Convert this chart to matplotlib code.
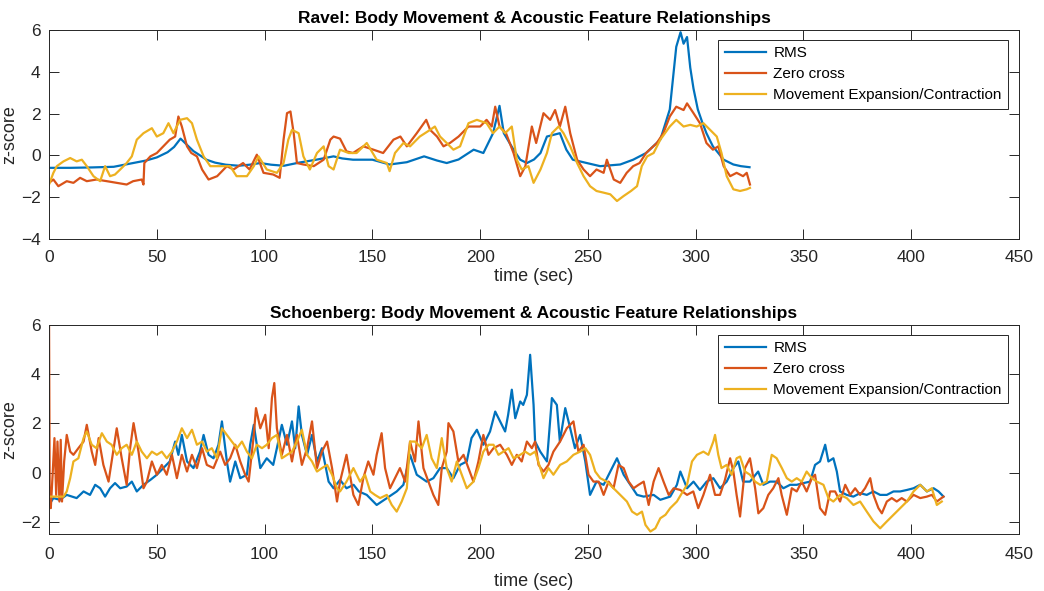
import matplotlib.pyplot as plt
import numpy as np

# ---------------------------------------------------------------------
# data (time in sec, z-score)
# ---------------------------------------------------------------------

ravel_rms_t = [0, 10, 20, 30, 39, 45, 50, 55, 58, 61, 64, 67, 70, 73, 77, 82, 88, 93, 98, 103,
               109, 116, 124, 132, 136, 141, 150, 158, 166, 174, 180, 184.5, 190, 197, 201.5,
               206, 209, 211, 215.5, 218.6, 221.7, 225, 228, 231, 237, 240, 243, 249.5, 255.7,
               265, 271, 277, 283.6, 288, 291, 293, 294.4, 296, 297.5, 299, 301, 303, 305, 308,
               313, 317.5, 321, 325]
ravel_rms = [-0.60, -0.60, -0.58, -0.55, -0.37, -0.25, -0.10, 0.15, 0.40, 0.80, 0.50, 0.20, 0.0,
             -0.21, -0.35, -0.45, -0.50, -0.45, -0.37, -0.45, -0.50, -0.35, -0.21, -0.05, -0.15,
             -0.21, -0.21, -0.44, -0.33, -0.05, -0.25, -0.37, -0.20, 0.27, 0.11, 1.06, 2.37, 1.06,
             0.27, -0.21, -0.37, -0.20, 0.11, 0.90, 1.06, 0.27, -0.21, -0.37, -0.52, -0.44, -0.21,
             0.11, 0.75, 2.2, 5.2, 5.9, 5.35, 5.67, 4.2, 3.2, 2.2, 1.6, 1.06, 0.43, -0.21, -0.44,
             -0.52, -0.57]

ravel_zc_t = [0, 2, 4.3, 8.2, 11.3, 14.4, 17.5, 22, 26.8, 31.4, 36, 39, 43, 43.8, 44.2, 47, 50,
              53, 56, 58.5, 60, 61.6, 64, 66, 68.6, 71, 74, 78, 82.5, 85.6, 90, 93, 96.4, 99.5,
              104, 107, 108.8, 110.4, 112, 113.5, 115, 118, 122.8, 127.4, 130.5, 132, 135, 138,
              141, 145.8, 150.5, 155, 159.8, 163, 166, 170.6, 175, 176.8, 180, 183, 186, 190,
              194.6, 200, 203, 205.4, 207, 209, 212, 215.5, 218.6, 221, 224, 226, 229.4, 232.5,
              234.8, 237, 239.5, 241.8, 245, 248, 251, 254, 257.3, 258.8, 262, 265, 268, 271,
              274, 277, 282, 285, 288, 291, 294.4, 296, 299, 302, 305, 308, 310.5, 313, 316,
              319, 322, 323.7, 325.2]
ravel_zc = [-1.32, -1.16, -1.48, -1.24, -1.32, -1.08, -1.24, -1.16, -1.24, -1.32, -1.40, -1.24,
            -1.16, -1.40, -0.37, -0.05, 0.11, 0.43, 0.75, 0.90, 1.86, 1.38, 0.43, 0.11, -0.05,
            -0.68, -1.16, -1.0, -0.52, -0.68, -0.37, -0.68, 0.03, -0.84, -0.92, -1.08, 0.75,
            2.02, 2.10, 1.06, -0.37, -0.44, -0.52, -0.21, 0.75, 0.90, 0.80, 0.19, 0.11, 0.43,
            0.27, 0.11, 0.75, 0.90, 0.43, 1.06, 1.70, 1.22, 0.90, 0.43, 0.59, 0.90, 1.38, 1.38,
            1.70, 1.38, 2.33, 1.38, 1.06, 0.11, -1.0, -0.52, 1.38, 0.59, 2.02, 1.70, 2.17, 1.38,
            2.33, 1.06, -0.21, -0.68, -1.0, -0.68, -0.84, -0.21, -1.16, -1.32, -0.84, -0.52,
            -0.37, 0.11, 0.59, 1.06, 1.86, 2.33, 2.17, 2.49, 2.02, 1.54, 0.59, 0.27, 0.43, -0.52,
            -1.0, -0.84, -1.0, -0.84, -1.40]

ravel_mv_t = [0, 2, 3.6, 6.7, 9.8, 12.8, 15.2, 17.5, 20.6, 23.7, 26, 28.3, 30.6, 33, 36, 38.4,
              40.7, 43.8, 47.7, 50, 53, 55.4, 57.7, 60.8, 64, 66.3, 68.6, 71.7, 74.8, 79.4, 84,
              87, 91.8, 95, 97.2, 101, 105.7, 108.8, 111, 112.7, 115.8, 118, 121, 124.3, 127.4,
              129.7, 132, 135, 139, 142.7, 147.4, 152, 156.7, 158, 160.5, 164.4, 167.5, 172,
              176.8, 179, 181.4, 184.5, 187.6, 190.7, 194.6, 198.5, 203, 206, 209, 211.6, 214.7,
              217, 219.3, 222.4, 224.8, 228, 231, 233.3, 236.4, 238.7, 241.8, 245, 248, 251, 254,
              257.3, 260.4, 263.5, 266.6, 270, 272.8, 275, 277.5, 280.5, 283.6, 288, 291, 294.4,
              297.5, 300.5, 303.6, 306.7, 309.8, 312, 314.4, 317.5, 320.6, 323.7, 325.2]
ravel_mv = [-1.40, -0.84, -0.52, -0.29, -0.13, -0.29, -0.21, -0.52, -1.0, -1.24, -0.52, -1.0,
            -0.92, -0.68, -0.37, -0.05, 0.75, 1.06, 1.30, 0.90, 1.06, 1.54, 1.06, 1.70, 1.78,
            1.54, 0.75, -0.05, -0.52, -0.52, -0.52, -1.0, -1.0, -0.52, -0.05, -0.68, -0.84,
            -0.37, 0.75, 1.22, 1.06, -0.05, -0.68, 0.11, 0.43, -0.52, -0.68, 0.27, 0.11, 0.11,
            0.59, -0.21, -0.37, -0.76, 0.11, 0.59, 0.43, 0.90, 1.22, 1.38, 0.90, 0.59, 0.27,
            0.43, 1.54, 1.70, 1.54, 1.06, 1.38, 1.06, 1.38, -0.21, -0.68, -0.52, -1.32, -0.68,
            0.11, 1.06, 1.38, 1.06, 0.43, -0.37, -1.0, -1.48, -1.71, -1.79, -1.87, -2.19, -1.95,
            -1.71, -1.48, -0.52, -0.05, 0.11, 0.75, 1.38, 1.70, 1.38, 1.46, 1.38, 1.54, 1.22,
            0.90, 0.11, -1.0, -1.63, -1.71, -1.63, -1.56]

sch_rms_t = [0, 2, 5, 8.2, 12.8, 16, 19, 21.4, 23.7, 26, 28.3, 30.6, 33, 36, 38.4, 40.7, 43.8,
             47, 50, 53, 56, 58.5, 60, 61.6, 64, 67, 70, 71.7, 74, 76.3, 78.6, 80.2, 82.5, 84,
             86.4, 88.7, 91.8, 93.3, 95, 96.4, 98, 101, 104, 105.7, 108, 110.4, 112.7, 114.2,
             115.8, 117.3, 119.7, 122, 124.3, 126.6, 129.7, 132, 135, 138, 141.3, 143.7, 147.4,
             152, 156.7, 161.3, 164.4, 167.5, 170.6, 175.2, 178.3, 181.4, 184.5, 187.6, 190.7,
             193.8, 196, 198.5, 201.5, 204.6, 207, 209.3, 211.6, 213, 214.7, 216.3, 218.6, 220,
             221.7, 223.2, 224.8, 225.5, 227.9, 231, 233.3, 235.6, 237, 239.5, 241.8, 244, 246.4,
             248.8, 251, 254, 257.3, 260.4, 263.5, 266.6, 269.7, 272.8, 275.9, 280.5, 283.6,
             288.2, 291.3, 292.9, 296, 299, 302, 305.1, 308.2, 311.3, 314.4, 317.5, 319.8, 322,
             325.2, 329, 331.4, 334.5, 337.6, 340.7, 343.8, 346.9, 350, 353.1, 355.4, 357.7,
             360.1, 361.6, 363.9, 365.5, 367, 370.1, 373.2, 376.3, 379.4, 382.5, 385.6, 388.7,
             391.8, 394.9, 398, 401.1, 404.2, 407.3, 410.4, 412.7, 415]
sch_rms = [-1.32, -1.04, -1.11, -0.91, -1.04, -0.77, -0.91, -0.50, -0.64, -0.98, -0.64, -0.43,
           -0.64, -0.57, -0.37, -0.77, -0.50, -0.30, -0.09, 0.18, 0.45, 1.26, 0.72, 1.53, 0.45,
           0.18, 0.85, 1.53, 0.72, 0.58, 1.13, 2.08, 0.45, -0.37, 0.45, -0.23, -0.09, 1.13, 1.94,
           1.13, 0.18, 0.58, 0.31, 0.99, 1.94, 1.13, 2.08, 0.99, 2.69, 1.53, 0.72, 1.53, 0.45,
           0.99, -0.37, -0.64, -0.30, -0.64, -0.50, -0.77, -0.91, -1.32, -1.04, -0.77, -0.50,
           0.72, -0.09, -0.37, -0.23, 0.18, 0.18, -0.23, 0.31, 0.45, 1.40, 1.74, 1.13, 1.67, 2.48,
           2.08, 1.67, 2.35, 3.37, 2.21, 2.89, 2.75, 3.16, 4.79, 2.75, 1.26, 0.85, 0.45, 3.03,
           2.75, 1.26, 2.62, 1.80, 0.99, 1.53, 0.45, -0.91, -0.37, -0.50, 0.04, 0.58, -0.09,
           -0.50, -0.91, -0.98, -0.91, -1.11, -0.98, -0.50, 0.04, -0.64, -0.37, -0.71, -0.37,
           -0.23, -0.64, -0.37, 0.18, 0.45, -0.37, -0.37, 0.04, -0.50, -0.37, -0.37, -0.64,
           -0.50, -0.50, -0.43, -0.37, 0.31, 0.45, 1.13, 0.45, 0.58, 0.04, -0.77, -0.91, -0.98,
           -0.84, -0.91, -0.77, -0.91, -0.91, -0.77, -0.77, -0.71, -0.64, -0.50, -0.77, -0.64,
           -0.77, -0.98]

sch_zc_t = [0, 0.3, 0.8, 1.7, 2.5, 3.3, 3.9, 4.8, 5.4, 6, 7, 8.2, 9.8, 11.3, 13.6, 16, 17.5,
            19.8, 21.4, 23, 25.2, 27.6, 30, 31.4, 33.7, 36, 37.6, 39.2, 41.5, 43.8, 45.4, 47.7,
            50, 52.3, 54.6, 57, 59.3, 61.6, 64, 66.3, 68.6, 71, 73.2, 76.3, 79.4, 81.7, 84, 86.4,
            88.7, 91, 92.6, 95, 96, 98, 100.3, 101.9, 103.4, 104.5, 105.7, 108, 110.4, 112.7,
            115, 117.3, 119.7, 122, 124.3, 126.6, 129, 131.3, 133.6, 135, 138, 141.2, 143.5,
            145.8, 148.1, 150.5, 152, 154.3, 155.9, 158.2, 161.3, 162.8, 165.2, 167.5, 169.8,
            171.4, 173.7, 176, 178.3, 180.6, 182.2, 184.5, 185.3, 187.6, 189.9, 192.3, 194.6,
            196.9, 199.2, 201.5, 203.9, 206.2, 209.3, 212.4, 214.7, 217, 219.3, 221.7, 224,
            225.5, 227.1, 229.4, 231.7, 234, 237.1, 240.2, 243.3, 245.6, 248, 250.3, 252.6, 255,
            257.3, 259.6, 261.9, 264.2, 266.6, 268.9, 271.2, 273.5, 275.9, 278.2, 280.5, 282.8,
            285.1, 287.5, 289.8, 292.9, 296, 298.9, 301.2, 303.6, 306.7, 309, 311.3, 313.6, 316,
            317.5, 319, 320.6, 322.9, 325.2, 327.6, 329.1, 331.4, 333.7, 336, 338.4, 339.9,
            342.3, 344.6, 346.9, 349.2, 351.5, 353.9, 355.4, 357.7, 360.1, 362.4, 364.7, 367,
            369.4, 371.7, 374, 376.3, 378.6, 381, 382.5, 384.8, 386.4, 388.7, 391, 393.3, 395.6,
            398, 401.1, 404.2, 407.3, 409.6, 411.9, 415]
sch_zc = [6.0, -0.91, -1.45, 0.0, 1.40, -0.91, 1.26, -1.18, 1.33, -1.18, 0.45, 1.53, 0.85,
          0.72, 0.99, 1.26, 1.94, 0.85, 0.31, 1.40, 0.31, -0.37, 0.99, 1.80, 0.58, -0.50, 0.99,
          2.01, 0.85, -0.64, -0.37, 0.45, -0.09, 0.31, -0.09, 0.72, -0.23, 0.72, 0.04, 0.72,
          0.18, 0.99, 0.31, 0.18, 0.85, 0.31, 0.58, 1.13, 0.45, -0.09, -0.37, 1.53, 2.62, 1.80,
          2.35, 0.99, 3.03, 3.64, 1.80, 0.72, 1.53, 0.45, 1.53, 0.31, 0.99, 2.08, 0.18, 0.85,
          1.26, 0.18, -1.18, -0.37, 0.72, -0.91, -1.32, -0.23, 0.45, -0.09, 0.72, 1.60, 0.18,
          -0.64, -0.09, 0.18, -0.37, 1.26, 0.45, 2.08, 0.18, -0.37, -0.91, -1.32, 0.18, 0.85,
          2.01, 1.67, 0.45, 0.72, 0.18, -0.37, 0.45, 1.53, 0.72, 0.99, 1.13, 0.72, 0.31, 0.72,
          0.45, 1.26, 0.99, 1.26, 0.31, 0.04, 0.31, 0.85, 1.26, 1.80, 2.08, 0.85, 1.13, -0.09,
          -0.37, -0.37, -0.91, -0.37, -0.64, 0.31, 0.18, -0.37, -0.64, -0.50, -0.37, -1.32,
          -0.37, 0.18, -0.37, -0.91, -0.64, -0.71, -0.91, -0.77, -1.45, -0.91, -0.09, -0.91,
          -0.91, -0.30, 0.58, 0.04, -0.91, -1.79, 0.18, 0.58, -0.64, -1.66, -1.45, -0.91, -0.64,
          -0.23, -0.91, -1.72, -0.64, -0.77, -0.37, -0.77, -0.23, -0.09, -1.45, -1.72, -0.77,
          -0.77, -1.18, -0.50, -0.91, -0.64, -0.91, -0.64, -0.23, -0.91, -1.45, -1.66, -1.18,
          -1.04, -1.18, -1.04, -1.18, -0.91, -1.04, -0.98, -0.91, -1.18, -0.98]

sch_mv_t = [0, 3.6, 6.7, 8.2, 9.8, 11.3, 13.6, 16, 17.5, 19.8, 22, 24.5, 26.8, 29, 31.4, 33.7,
            36, 38.4, 40.7, 43, 45.4, 47.7, 50, 52.3, 54.6, 57, 59.3, 61.6, 64, 66.3, 68.6, 71,
            73.2, 75.5, 77.9, 80.2, 82.5, 84.8, 87.2, 89.5, 91.8, 94.1, 96.4, 98.8, 101, 103.4,
            105.7, 108, 110.4, 112.7, 115, 117.3, 119.7, 122, 124.3, 126.6, 129, 131.3, 133.6,
            135, 138, 141.2, 144.3, 146.6, 149, 151.2, 153.6, 156.7, 159, 161.3, 163.6, 166,
            167.5, 169.8, 172.9, 175.2, 177.5, 179.9, 182.2, 184.5, 186.8, 189.2, 191.5, 193.8,
            196.9, 199.2, 201.5, 203.9, 206.2, 208.5, 210.8, 213.2, 215.5, 218.6, 220.9, 223.2,
            225.5, 227.9, 229.4, 231.7, 234, 237.1, 240.2, 243.3, 246.4, 248.8, 251, 253.4,
            255.7, 258.8, 261.9, 265, 268.1, 270.5, 272.8, 275.1, 276.7, 279, 281.3, 283.6, 286,
            288.2, 291.3, 293.6, 296, 298.3, 300.6, 303.6, 305.9, 308.2, 309, 310.5, 312, 314.4,
            316.7, 319, 320.6, 322.9, 325.2, 327.6, 329.9, 333, 335.3, 337.6, 340, 342.3, 344.6,
            346.9, 349.2, 351.5, 353.9, 356.2, 359.3, 361.6, 363.9, 367, 370.1, 373.2, 376.3,
            379.4, 382.5, 385.6, 388.7, 391.8, 394.9, 398, 401.1, 404.2, 407.3, 409.6, 411.9,
            414.2]
sch_mv = [-0.98, -0.98, -0.98, -0.77, -0.23, 0.45, 0.58, 1.40, 1.67, 1.13, 0.99, 1.60, 1.26,
          1.13, 0.72, 0.99, 1.13, 0.72, 1.26, 0.85, 0.58, 0.85, 0.72, 0.85, 0.58, 0.85, 1.26,
          1.80, 1.40, 1.74, 1.13, 1.26, 0.85, 0.99, 0.58, 1.80, 1.53, 1.26, 0.99, 1.26, 0.85,
          0.58, 1.13, 0.99, 1.13, 1.40, 1.53, 0.58, 0.72, 0.85, 1.26, 1.74, 0.72, 0.45, 0.04,
          0.18, 0.31, -0.09, -0.64, -0.77, -0.37, 0.18, -0.37, -0.09, -0.77, -0.91, -1.04,
          -0.91, -1.32, -1.59, -1.18, -0.64, 1.26, 1.26, 0.99, 1.53, 0.58, 0.18, 1.40, 0.18,
          -0.37, 0.45, -0.09, -0.64, -0.37, 0.18, 0.85, 1.13, 1.13, 0.72, 0.85, 0.99, 0.58,
          0.72, 0.85, 0.72, 0.85, 0.18, -0.23, 0.18, -0.09, 0.31, 0.45, 0.72, 0.85, 0.99, 0.72,
          0.04, -0.23, -0.37, -0.64, -0.91, -1.18, -1.59, -1.72, -1.59, -2.13, -2.40, -2.27,
          -1.86, -1.72, -1.45, -1.18, -0.84, -0.50, 0.45, 0.72, 0.85, 0.72, 1.26, 1.53, 0.72,
          0.18, 0.31, -0.09, 0.58, 0.65, 0.04, -0.09, -0.37, -0.50, -0.37, 0.72, 0.58, 0.18,
          -0.23, -0.37, -0.23, -0.37, 0.04, -0.23, -0.37, -0.50, -1.04, -1.18, -0.91, -1.04,
          -1.32, -1.18, -1.59, -1.99, -2.27, -1.99, -1.72, -1.45, -1.18, -0.77, -0.50, -0.77,
          -0.64, -1.32, -1.18]

labels = ["RMS", "Zero cross", "Movement Expansion/Contraction"]
colors = ["#0072BD", "#D95319", "#EDB120"]
ink = "#262626"

plt.rcParams['font.family'] = ['Liberation Sans', 'DejaVu Sans']

fig = plt.figure(figsize=(10.44, 5.91), dpi=100)
ax1 = fig.add_axes([0.047, 0.596, 0.929, 0.353])
ax2 = fig.add_axes([0.047, 0.0965, 0.929, 0.3535])

# (axes, piece, series, y range, y ticks, tick pad, xlabel pad)
panels = [
    (ax1, "Ravel", [(ravel_rms_t, ravel_rms), (ravel_zc_t, ravel_zc), (ravel_mv_t, ravel_mv)],
     (-4, 6), np.arange(-4, 7, 2), 8, 2),
    (ax2, "Schoenberg", [(sch_rms_t, sch_rms), (sch_zc_t, sch_zc), (sch_mv_t, sch_mv)],
     (-2.5, 6), np.arange(-2, 7, 2), 9.5, 8),
]

for ax, name, series, ylim, yticks, xpad, lpad in panels:
    for (t, z), lab, col in zip(series, labels, colors):
        ax.plot(t, z, color=col, lw=1.6, label=lab)
    ax.set_xlim(0, 450)
    ax.set_ylim(*ylim)
    ax.set_xticks(np.arange(0, 451, 50))
    ax.set_yticks(yticks)
    ax.tick_params(direction="in", top=True, right=True, labelsize=12.5,
                   colors=ink, length=7, width=0.7)
    ax.tick_params(axis="x", pad=xpad)
    ax.tick_params(axis="y", pad=6)
    for sp in ax.spines.values():
        sp.set_color(ink)
        sp.set_linewidth(0.7)
    ax.set_xlabel("time (sec)", fontsize=13, color=ink, labelpad=lpad)
    ax.set_ylabel("z-score", fontsize=13, color=ink, labelpad=2)
    ax.set_title(f"{name}: Body Movement & Acoustic Feature Relationships",
                 fontsize=12.5, fontweight="bold", pad=5)
    leg = ax.legend(loc="upper right", fontsize=11, handlelength=2.7, fancybox=False,
                    framealpha=1, edgecolor=ink, borderpad=0.42, labelspacing=0.45,
                    handletextpad=0.5, borderaxespad=0, bbox_to_anchor=(0.989, 0.953))
    leg.get_frame().set_linewidth(0.7)

fig.savefig("out.png", dpi=100)
